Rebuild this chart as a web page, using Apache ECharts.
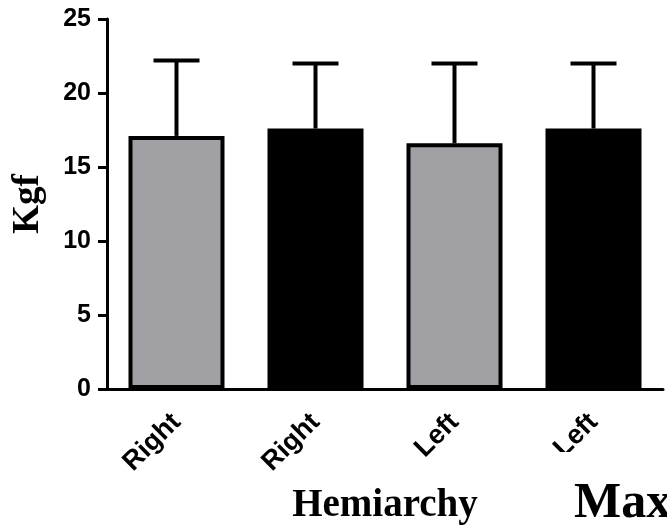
<!DOCTYPE html>
<html>
<head>
<meta charset="utf-8">
<script src="https://cdn.jsdelivr.net/npm/echarts@6/dist/echarts.min.js"></script>
<style>
  html, body { margin: 0; padding: 0; background: #fff; }
  #chart { width: 667px; height: 526px; }
</style>
</head>
<body>
<div id="chart"></div>
<script>
// Grip strength (Kgf) by hemiarchy: mean with upper SD whisker
const categories = ['Right', 'Right', 'Left', 'Left'];
const means = [17.1, 17.6, 16.6, 17.6];
const sds = [5.1, 4.4, 5.4, 4.4];
const yTicks = { min: 0, max: 25, step: 5 };

// fill per bar: grey / black alternating groups
const barFills = ['#a09fa4', '#000000', '#a09fa4', '#000000'];

const serif = '"Liberation Serif", "Times New Roman", serif';
const sans = '"Liberation Sans", Arial, sans-serif';

const chart = echarts.init(document.getElementById('chart'), null, { renderer: 'canvas' });

const barData = means.map((v, i) => ({
  value: v,
  itemStyle: { color: barFills[i], borderColor: '#000', borderWidth: 4 }
}));

const errData = means.map((v, i) => [i, v, v + sds[i]]);

chart.setOption({
  animation: false,
  backgroundColor: '#fff',
  grid: { left: 107, right: 4, top: 19, bottom: 137, containLabel: false, outerBoundsMode: 'none' },
  xAxis: {
    type: 'category',
    data: categories,
    name: 'Hemiarchy',
    nameLocation: 'middle',
    nameGap: 97,
    nameTextStyle: { fontFamily: serif, fontWeight: 'bold', fontSize: 39, color: '#000' },
    axisLine: { lineStyle: { color: '#000', width: 3 } },
    axisTick: { alignWithLabel: true, length: 9, lineStyle: { color: '#000', width: 3 } },
    axisLabel: { rotate: 45, margin: 29, fontFamily: sans, fontWeight: 'bold', fontSize: 27, color: '#000' },
    splitLine: { show: false }
  },
  yAxis: {
    type: 'value',
    min: yTicks.min,
    max: yTicks.max,
    interval: yTicks.step,
    name: 'Kgf',
    nameLocation: 'middle',
    nameRotate: 90,
    nameGap: 60,
    nameTextStyle: { fontFamily: serif, fontWeight: 'bold', fontSize: 37, color: '#000' },
    axisLine: { show: true, lineStyle: { color: '#000', width: 3 } },
    axisTick: { show: true, length: 9, lineStyle: { color: '#000', width: 3 } },
    axisLabel: { margin: 16, fontFamily: sans, fontWeight: 'bold', fontSize: 25, color: '#000' },
    splitLine: { show: false }
  },
  series: [
    {
      type: 'bar',
      data: barData,
      barWidth: 96,
      z: 2
    },
    {
      type: 'custom',
      data: errData,
      encode: { x: 0, y: [1, 2] },
      z: 3,
      renderItem: function (params, api) {
        const x = api.value(0);
        const base = api.coord([x, api.value(1)]);
        const top = api.coord([x, api.value(2)]);
        const half = 23;
        const st = { stroke: '#000', lineWidth: 4, fill: null };
        return {
          type: 'group',
          children: [
            { type: 'line', shape: { x1: base[0], y1: base[1], x2: top[0], y2: top[1] }, style: st },
            { type: 'line', shape: { x1: top[0] - half, y1: top[1], x2: top[0] + half, y2: top[1] }, style: st }
          ]
        };
      }
    }
  ],
  graphic: [
    {
      type: 'rect',
      z: 100,
      shape: { x: 532, y: 452, width: 140, height: 80 },
      style: { fill: '#fff' }
    },
    {
      type: 'text',
      z: 101,
      x: 574,
      y: 504,
      style: {
        text: 'Max',
        fontFamily: serif,
        fontWeight: 'bold',
        fontSize: 50,
        fill: '#000',
        align: 'left',
        verticalAlign: 'middle'
      }
    }
  ]
});
</script>
</body>
</html>
